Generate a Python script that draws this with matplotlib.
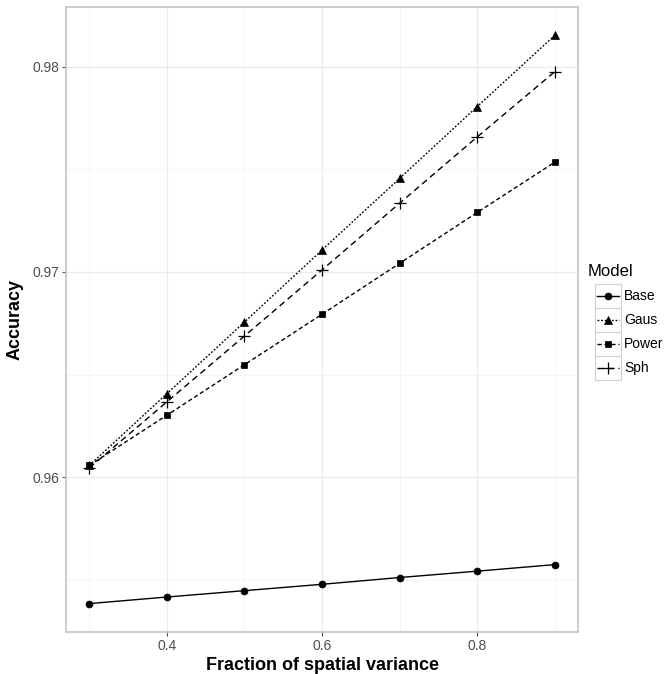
"""
plot.py

Accuracy vs fraction of spatial variance for the four models.
"""
import matplotlib
matplotlib.use("Agg")
import matplotlib.pyplot as plt
from matplotlib.lines import Line2D
from matplotlib.patches import Rectangle
from matplotlib.ticker import MultipleLocator

plt.rcParams['font.family'] = ['Liberation Sans', 'DejaVu Sans']

fraction = [0.3, 0.4, 0.5, 0.6, 0.7, 0.8, 0.9]
models = ["Base", "Gaus", "Power", "Sph"]
base = [0.95384, 0.95416, 0.95447, 0.95478, 0.95511, 0.95542, 0.95574]
gaus = [0.96057, 0.96407, 0.96756, 0.97107, 0.97456, 0.97806, 0.98153]
power = [0.96057, 0.96302, 0.96548, 0.96794, 0.97042, 0.97290, 0.97535]
sph = [0.96045, 0.96367, 0.96688, 0.97010, 0.97335, 0.97658, 0.97976]
x_ticks = [0.4, 0.6, 0.8]
y_ticks = [0.96, 0.97, 0.98]

# line / marker style per model (ggplot default shapes 16, 17, 15, 3)
styles = {
    "Base": dict(ls='-', marker='o', ms=5, lw=1.0),
    "Gaus": dict(ls=(0, (1.3, 1.3)), marker='^', ms=6, lw=1.0),
    "Power": dict(ls=(0, (3, 2)), marker='s', ms=5, lw=1.0),
    "Sph": dict(ls=(0, (4.5, 3)), marker='+', ms=8, lw=1.0),
}
series = {"Base": base, "Gaus": gaus, "Power": power, "Sph": sph}

W, H = 672, 674
fig = plt.figure(figsize=(W / 100, H / 100), dpi=100)
ax = fig.add_axes([66 / W, 1 - 632 / H, (578 - 66) / W, (632 - 7) / H])

for name in models:
    st = styles[name]
    ax.plot(fraction, series[name], color='black', linestyle=st['ls'], lw=st['lw'],
            marker=st['marker'], markersize=st['ms'], markeredgewidth=0.9 if name == "Sph" else 0.5,
            zorder=3)

# ggplot-style expansion of 5% on each side
xr = max(fraction) - min(fraction)
ax.set_xlim(min(fraction) - 0.05 * xr, max(fraction) + 0.05 * xr)
ally = base + gaus + power + sph
yr = max(ally) - min(ally)
ax.set_ylim(min(ally) - 0.05 * yr, max(ally) + 0.05 * yr)

ax.set_xticks(x_ticks)
ax.set_xticklabels([f"{t:.1f}" for t in x_ticks])
ax.set_yticks(y_ticks)
ax.set_yticklabels([f"{t:.2f}" for t in y_ticks])
ax.xaxis.set_minor_locator(MultipleLocator(0.1))
ax.yaxis.set_minor_locator(MultipleLocator(0.005))
ax.tick_params(which='major', length=3, width=0.8, color='#555555', labelsize=10,
               labelcolor='#4d4d4d', pad=2)
ax.tick_params(which='minor', length=0)
ax.grid(which='major', color='#ebebeb', lw=0.9, zorder=0)
ax.grid(which='minor', color='#f4f4f4', lw=0.6, zorder=0)
ax.set_axisbelow(True)
for sp in ax.spines.values():
    sp.set_color('#c4c4c4')
    sp.set_linewidth(1.2)

ax.set_xlabel("Fraction of spatial variance", fontsize=13, fontweight='bold', labelpad=3)
ax.set_ylabel("Accuracy", fontsize=13, fontweight='bold', labelpad=6)

# legend drawn by hand so each key gets its own grey box like ggplot
def px(x, y):
    return x / W, 1 - y / H

fig.text(*px(588, 272), "Model", fontsize=12, va='center', ha='left')
key_left, key_w, key_h, row0 = 595, 26, 24, 284
for i, name in enumerate(models):
    st = styles[name]
    top = row0 + i * key_h
    x0, y0 = px(key_left, top + key_h)
    fig.add_artist(Rectangle((x0, y0), key_w / W, key_h / H, transform=fig.transFigure,
                             facecolor='white', edgecolor='#d0d0d0', lw=0.8))
    xa, yc = px(key_left + 2, top + key_h / 2)
    xb, _ = px(key_left + key_w - 2, top + key_h / 2)
    fig.add_artist(Line2D([xa, xb], [yc, yc], transform=fig.transFigure, color='black',
                          linestyle=st['ls'], lw=st['lw']))
    fig.add_artist(Line2D([(xa + xb) / 2], [yc], transform=fig.transFigure, color='black',
                          marker=st['marker'], markersize=st['ms'], linestyle='none',
                          markeredgewidth=0.9 if name == "Sph" else 0.5))
    fig.text(*px(key_left + key_w + 3, top + key_h / 2), name, fontsize=10, va='center', ha='left')

fig.savefig("out.png", dpi=100)
